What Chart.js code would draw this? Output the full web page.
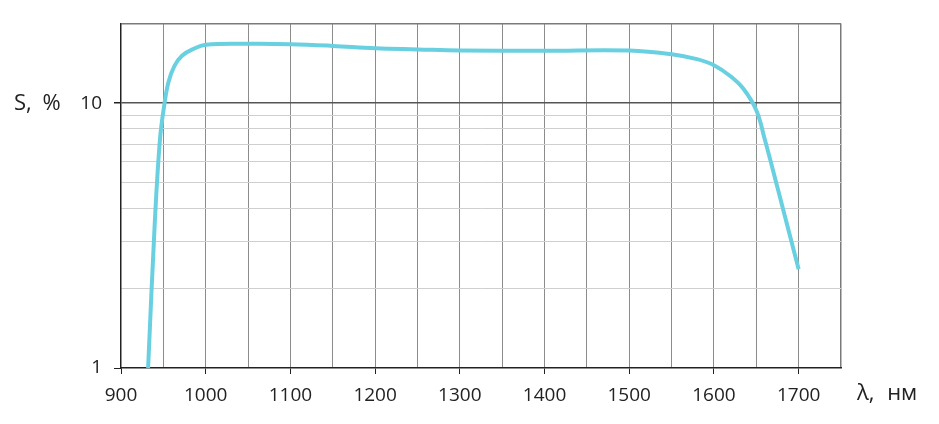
<!DOCTYPE html>
<html>
<head>
<meta charset="utf-8">
<script src="https://cdn.jsdelivr.net/npm/chart.js@4/dist/chart.umd.min.js"></script>
<style>
	html, body { margin: 0; padding: 0; background: #fff; }
	#wrap { width: 939px; height: 424px; }
</style>
</head>
<body>
<div id="wrap"><canvas id="myChart-sens"></canvas></div>
<script>
// длина волны, нм
var lambdaNm = [932, 940, 946, 951, 956, 963, 972, 985, 1000, 1050, 1100, 1150, 1200, 1250, 1300, 1400,
	1500, 1550, 1580, 1600, 1620, 1635, 1650, 1660, 1675, 1700];
// чувствительность S, %
var sensPct = [1, 3.6, 7.3, 9.8, 12.0, 13.8, 15.1, 16.0, 16.6, 16.75, 16.7, 16.45, 16.1, 15.95, 15.81, 15.77,
	15.8, 15.3, 14.66, 13.9, 12.6, 11.3, 9.4, 7.3, 4.8, 2.36];

var xTickValues = [900, 950, 1000, 1050, 1100, 1150, 1200, 1250, 1300, 1350, 1400, 1450, 1500, 1550, 1600, 1650, 1700, 1750];
var xTickLabels = [900, 1000, 1100, 1200, 1300, 1400, 1500, 1600, 1700];
var yTickValues = [1, 2, 3, 4, 5, 6, 7, 8, 9, 10, 20];
var yTickLabels = [1, 10];

var points = [];
for (var i = 0; i < lambdaNm.length; i++) {
	points.push({x: lambdaNm[i], y: sensPct[i]});
}

var fontMain = {family: "'Open Sans', 'DejaVu Sans', sans-serif", size: 19};

// подписи осей рисуем сами, как на исходном графике
var axisTitles = {
	id: 'axisTitles',
	afterDraw: function(chart) {
		var ctx = chart.ctx;
		ctx.save();
		ctx.fillStyle = '#222';
		ctx.font = "22px 'Open Sans', 'DejaVu Sans', sans-serif";
		ctx.textBaseline = 'middle';
		ctx.textAlign = 'left';
		ctx.wordSpacing = '5px';
		ctx.fillText('S, %', 14, chart.scales.y.getPixelForValue(10) + 1);
		ctx.wordSpacing = '7px';
		ctx.fillText('λ, нм', 857, 394);
		ctx.restore();
	}
};

var config = {
	type: 'line',
	data: {
		datasets: [{
			data: points,
			borderColor: '#68d0e0',
			borderWidth: 4,
			pointRadius: 0,
			fill: false,
			tension: 0.4
		}]
	},
	options: {
		responsive: true,
		maintainAspectRatio: false,
		animation: false,
		layout: {padding: {left: 0, right: 98, top: 20, bottom: 0}},
		plugins: {legend: {display: false}, tooltip: {enabled: false}},
		scales: {
			x: {
				type: 'linear',
				min: 900,
				max: 1750,
				afterBuildTicks: function(scale) {
					scale.ticks = xTickValues.map(function(v) { return {value: v}; });
				},
				afterFit: function(scale) { scale.height = 56; },
				border: {color: '#222', width: 1.5},
				grid: {
					color: function(c) {
						if (c.tick.value === 900) return 'rgba(0,0,0,0)';
						if (c.tick.value === 1750) return '#7a7a7a';
						return '#8c8c8c';
					},
					lineWidth: function(c) { return c.tick.value === 1750 ? 1.5 : 1; },
					tickColor: function(c) {
						return xTickLabels.indexOf(c.tick.value) >= 0 ? '#222' : 'rgba(0,0,0,0)';
					},
					tickLength: 6
				},
				ticks: {
					autoSkip: false,
					maxRotation: 0,
					padding: 10,
					color: '#222',
					font: fontMain,
					callback: function(v) { return xTickLabels.indexOf(v) >= 0 ? String(v) : ''; }
				}
			},
			y: {
				type: 'logarithmic',
				min: 1,
				max: 20,
				afterBuildTicks: function(scale) {
					scale.ticks = yTickValues.map(function(v) { return {value: v}; });
				},
				afterFit: function(scale) { scale.width = 121; },
				border: {color: '#222', width: 1.5},
				grid: {
					color: function(c) {
						var v = c.tick.value;
						if (v === 1) return 'rgba(0,0,0,0)';
						if (v === 10) return '#555';
						if (v === 20) return '#7a7a7a';
						return '#cfcfcf';
					},
					lineWidth: function(c) {
						var v = c.tick.value;
						return (v === 10 || v === 20) ? 1.5 : 1;
					},
					tickColor: function(c) {
						return yTickLabels.indexOf(c.tick.value) >= 0 ? '#222' : 'rgba(0,0,0,0)';
					},
					tickLength: 7
				},
				ticks: {
					autoSkip: false,
					padding: 12,
					color: '#222',
					font: fontMain,
					callback: function(v) { return yTickLabels.indexOf(v) >= 0 ? String(v) : ''; }
				}
			}
		}
	},
	plugins: [axisTitles]
};

new Chart(document.getElementById('myChart-sens'), config);
</script>
</body>
</html>
